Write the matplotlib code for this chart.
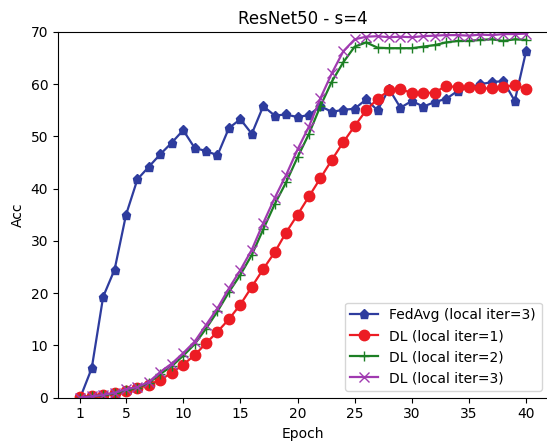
"""ResNet50 - s=4 accuracy curves: FedAvg vs DL with different local iterations."""

import matplotlib

matplotlib.use("Agg")
import matplotlib.pyplot as plt

epochs = list(range(1, 41))

fedavg_iter3 = [
    0.0, 5.6, 19.3, 24.5, 35.0, 41.8, 44.2, 46.6, 48.8, 51.2,
    47.8, 47.2, 46.4, 51.6, 53.3, 50.5, 55.8, 54.0, 54.2, 53.7,
    54.1, 55.8, 54.7, 55.1, 55.3, 57.1, 55.0, 59.1, 55.5, 56.8,
    55.7, 56.6, 57.2, 58.7, 59.4, 60.0, 60.4, 60.6, 56.8, 66.4,
]
dl_iter1 = [
    0.1, 0.35, 0.5, 0.8, 1.3, 1.8, 2.4, 3.4, 4.7, 6.3,
    8.1, 10.4, 12.6, 15.0, 17.8, 21.2, 24.6, 27.8, 31.6, 35.0,
    38.5, 42.0, 45.5, 48.9, 52.0, 55.0, 57.2, 58.8, 59.1, 58.3,
    58.3, 58.4, 59.7, 59.4, 59.4, 59.2, 59.2, 59.5, 59.8, 59.1,
]
dl_iter2 = [
    0.0, 0.2, 0.4, 0.8, 1.4, 1.9, 2.8, 4.5, 6.0, 8.0,
    10.2, 13.2, 16.5, 20.2, 23.5, 27.3, 32.2, 37.0, 41.2, 46.0,
    50.5, 55.8, 60.5, 64.2, 67.2, 68.0, 67.0, 66.9, 66.9, 66.9,
    67.2, 67.5, 68.0, 68.3, 68.3, 68.5, 68.6, 68.3, 68.6, 68.5,
]
dl_iter3 = [
    0.0, 0.2, 0.5, 0.9, 1.6, 2.0, 3.0, 4.9, 6.5, 8.5,
    10.7, 13.9, 17.1, 20.9, 24.4, 28.3, 33.4, 38.2, 42.6, 47.5,
    51.9, 57.3, 62.1, 66.3, 68.6, 69.1, 69.2, 69.0, 69.1, 69.0,
    69.2, 69.3, 69.4, 69.4, 69.3, 69.5, 69.4, 69.6, 69.6, 69.7,
]

x_ticks = [1, 5, 10, 15, 20, 25, 30, 35, 40]

figure = plt.figure(figsize=(5.47, 4.45), dpi=100)
# the source image is cropped just before the right spine
axis = figure.add_axes([58 / 547, 47.5 / 445, 490.5 / 547, 365.5 / 445])

axis.plot(epochs, fedavg_iter3, color="#2e3c9e", marker="p", markersize=6.5,
          linewidth=1.6, label="FedAvg (local iter=3)")
axis.plot(epochs, dl_iter1, color="#ec1c24", marker="o", markersize=7.5,
          linewidth=1.6, label="DL (local iter=1)")
axis.plot(epochs, dl_iter2, color="#1c7f24", marker="+", markersize=7,
          linewidth=1.6, label="DL (local iter=2)")
axis.plot(epochs, dl_iter3, color="#a03ab0", marker="x", markersize=7,
          linewidth=1.6, label="DL (local iter=3)")

axis.spines["right"].set_visible(False)
axis.set_ylim(0, 70)
axis.set_xticks(x_ticks)
axis.set_xlabel("Epoch")
axis.set_ylabel("Acc")
axis.set_title("ResNet50 - s=4")
axis.legend(loc="lower right")

figure.savefig("out.png", dpi=100)
plt.close(figure)
